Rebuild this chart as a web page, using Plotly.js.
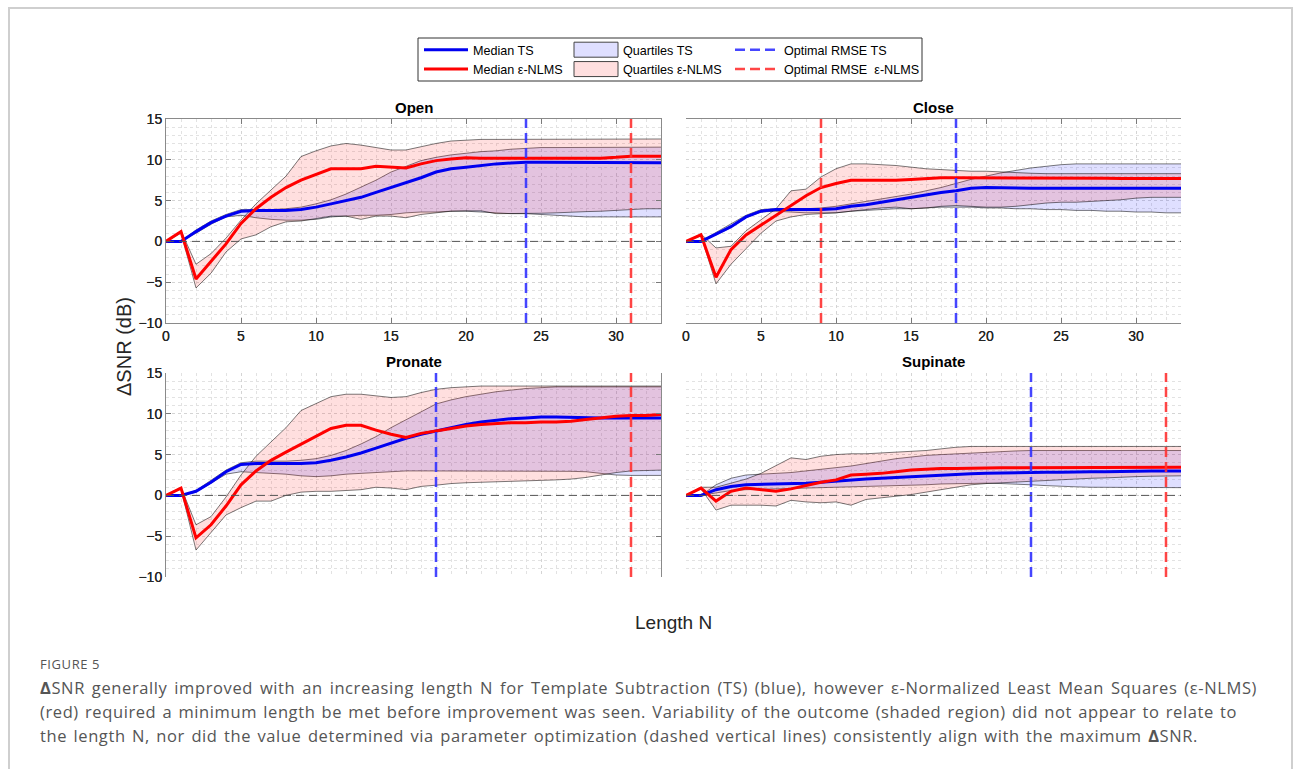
<!DOCTYPE html>
<html>
<head>
<meta charset="utf-8">
<script src="https://cdn.plot.ly/plotly-3.0.1.min.js"></script>
<style>
  html, body { margin:0; padding:0; background:#fff; overflow:hidden; width:1293px; height:769px; }
  #frame { position:absolute; left:8px; top:7px; width:1281px; height:800px; border:2px solid #cfcfcf; border-bottom:none; }
  #chart { position:absolute; left:0; top:0; width:1293px; height:769px; }
  #figlabel { position:absolute; left:40px; top:655px; font-family:"Open Sans", "Noto Sans", sans-serif; font-size:13px; color:#555; letter-spacing:0.6px; }
  .cap { position:absolute; left:40px; font-family:"Open Sans", "Noto Sans", sans-serif; font-size:16.5px; line-height:24px; color:#555; letter-spacing:0.6px; text-align:justify; text-align-last:justify; }
</style>
</head>
<body>
<div id="frame"></div>
<div id="chart"></div>
<div id="figlabel">FIGURE 5</div>
<div class="cap" style="top:676px;width:1217px;"><b>Δ</b>SNR generally improved with an increasing length N for Template Subtraction (TS) (blue), however ε-Normalized Least Mean Squares (ε-NLMS)</div>
<div class="cap" style="top:700px;width:1197px;">(red) required a minimum length be met before improvement was seen. Variability of the outcome (shaded region) did not appear to relate to</div>
<div class="cap" style="top:724px;width:1158px;">the length N, nor did the value determined via parameter optimization (dashed vertical lines) consistently align with the maximum <b>Δ</b>SNR.</div>
<script>
// ---------------- DATA ----------------
const N = [0,1,2,3,4,5,6,7,8,9,10,11,12,13,14,15,16,17,18,19,20,21,22,23,24,25,26,27,28,29,30,31,32,33];
const panelNames = ["Open", "Close", "Pronate", "Supinate"];
const yRange = [-10, 15];

// Open
const open_ts_med  = [0,0,1.2,2.3,3.1,3.7,3.8,3.8,3.8,3.9,4.2,4.6,5.0,5.4,6.0,6.6,7.2,7.8,8.5,8.9,9.1,9.3,9.5,9.6,9.7,9.7,9.7,9.7,9.7,9.7,9.7,9.7,9.65,9.65];
const open_ts_q3   = [0,0,1.4,2.5,3.3,3.9,3.9,3.9,4.0,4.2,4.6,5.1,5.8,6.6,7.5,8.5,9.2,9.9,10.3,10.6,10.8,11.0,11.1,11.3,11.4,11.5,11.5,11.5,11.5,11.5,11.55,11.55,11.55,11.55];
const open_ts_q1   = [0,0,1.0,2.1,3.0,3.2,2.9,2.7,2.6,2.6,2.7,3.0,3.1,3.2,3.2,3.3,3.5,3.6,3.6,3.7,3.7,3.6,3.5,3.4,3.4,3.3,3.2,3.1,3.0,3.0,3.0,3.0,3.0,3.0];
const open_nl_med  = [0,1.2,-4.6,-2.5,-0.3,2.2,4.0,5.4,6.6,7.5,8.2,8.9,8.9,8.9,9.2,9.1,9.0,9.5,9.9,10.1,10.25,10.2,10.2,10.2,10.2,10.2,10.2,10.2,10.2,10.2,10.3,10.45,10.45,10.45];
const open_nl_q3   = [0,1.3,-2.8,-1.5,0.4,2.6,4.6,6.3,8.0,10.4,11.1,11.7,12.0,11.8,11.5,11.2,11.2,11.6,12.0,12.3,12.4,12.5,12.5,12.5,12.5,12.5,12.5,12.5,12.5,12.5,12.55,12.55,12.55,12.55];
const open_nl_q1   = [0,1.0,-5.7,-3.9,-1.3,0.3,0.8,1.8,2.4,2.5,2.8,3.1,3.1,2.7,3.1,3.1,2.9,3.3,3.5,3.7,3.75,3.75,3.4,3.4,3.4,3.45,3.5,3.6,3.65,3.7,3.8,3.9,4.0,4.0];

// Close
const close_ts_med = [0,0,0.9,1.8,3.0,3.7,3.9,3.9,3.9,3.9,4.0,4.3,4.5,4.8,5.1,5.4,5.7,6.0,6.2,6.5,6.6,6.55,6.5,6.5,6.5,6.5,6.5,6.5,6.5,6.5,6.5,6.5,6.5,6.5];
const close_ts_q3  = [0,0,1.1,2.1,3.2,3.9,4.0,4.0,4.0,4.1,4.3,4.6,4.9,5.2,5.5,5.8,6.2,6.6,7.1,7.6,8.0,8.4,8.7,9.0,9.2,9.4,9.5,9.5,9.5,9.5,9.5,9.5,9.5,9.5];
const close_ts_q1  = [0,0,0.8,1.7,2.9,3.6,3.7,3.6,3.5,3.5,3.5,3.7,3.8,3.9,4.0,4.0,4.1,4.2,4.2,4.2,4.1,4.1,4.0,4.0,3.9,3.9,3.8,3.8,3.7,3.7,3.6,3.6,3.5,3.5];
const close_nl_med = [0,0.8,-4.4,-1.0,0.8,2.0,3.2,4.5,5.6,6.6,7.1,7.5,7.5,7.5,7.5,7.6,7.7,7.8,7.8,7.8,7.8,7.8,7.75,7.75,7.75,7.75,7.75,7.75,7.75,7.7,7.7,7.7,7.7,7.7];
const close_nl_q3  = [0,0.9,-0.8,-0.6,1.3,2.6,4.0,6.2,6.4,7.9,8.9,9.5,9.5,9.4,9.3,9.1,8.9,8.8,8.7,8.6,8.6,8.5,8.4,8.35,8.3,8.3,8.3,8.3,8.3,8.3,8.3,8.3,8.3,8.3];
const close_nl_q1  = [0,0.7,-5.2,-2.8,-0.9,1.0,2.5,3.0,3.3,3.4,3.5,3.7,3.9,4.1,4.2,4.0,4.1,4.3,4.4,4.3,4.2,4.2,4.3,4.5,4.7,4.8,4.8,4.9,5.0,5.1,5.3,5.4,5.4,5.4];

// Pronate
const pron_ts_med  = [0,0,0.5,1.6,2.9,3.8,3.9,3.9,3.9,3.9,4.0,4.3,4.7,5.2,5.8,6.4,7.0,7.5,7.9,8.3,8.7,9.0,9.2,9.4,9.5,9.6,9.6,9.55,9.5,9.5,9.5,9.5,9.5,9.5];
const pron_ts_q3   = [0,0,0.6,1.8,3.1,4.0,4.2,4.2,4.2,4.3,4.5,4.9,5.5,6.3,7.2,8.3,9.3,10.3,11.2,11.7,12.1,12.4,12.7,12.9,13.1,13.2,13.3,13.3,13.3,13.3,13.3,13.3,13.3,13.3];
const pron_ts_q1   = [0,0,0.4,1.5,2.6,2.9,2.8,2.7,2.6,2.4,2.3,2.4,2.6,2.7,2.8,2.9,3.0,3.0,3.0,3.0,3.0,3.0,3.0,3.0,3.0,3.0,3.0,2.95,2.9,2.7,2.5,2.45,2.45,2.45];
const pron_nl_med  = [0,0.9,-5.2,-3.6,-1.3,1.3,3.0,4.3,5.3,6.3,7.3,8.2,8.6,8.6,8.0,7.5,7.1,7.6,7.9,8.2,8.5,8.7,8.8,8.9,8.9,9.0,9.0,9.1,9.3,9.5,9.7,9.8,9.8,9.9];
const pron_nl_q3   = [0,1.0,-3.6,-2.6,-0.2,2.5,4.8,6.6,8.3,10.4,11.3,12.1,12.4,12.4,12.2,12.0,12.1,12.6,13.0,13.2,13.3,13.4,13.4,13.4,13.4,13.4,13.4,13.4,13.4,13.4,13.4,13.4,13.4,13.4];
const pron_nl_q1   = [0,0.8,-6.7,-4.5,-2.4,-1.5,-0.7,-0.7,0,0.4,0.5,0.5,0.6,0.7,1.0,0.9,0.7,1.1,1.25,1.45,1.55,1.6,1.7,1.72,1.75,1.8,1.9,2.0,2.2,2.5,2.8,3.0,3.05,3.1];

// Supinate
const sup_ts_med   = [0,0,0.7,1.1,1.3,1.35,1.35,1.4,1.5,1.6,1.75,1.9,2.0,2.1,2.2,2.3,2.4,2.5,2.6,2.65,2.7,2.75,2.8,2.8,2.85,2.85,2.9,2.9,2.9,2.95,2.95,3.0,3.0,3.0];
const sup_ts_q3    = [0,0,1.3,2.1,2.5,2.6,2.7,2.8,3.0,3.2,3.4,3.6,3.9,4.2,4.5,4.7,4.9,5.0,5.1,5.2,5.3,5.4,5.45,5.5,5.5,5.5,5.5,5.5,5.5,5.5,5.5,5.5,5.5,5.5];
const sup_ts_q1    = [0,0,0.3,0.6,0.7,0.75,0.8,0.8,0.85,0.9,0.95,1.0,1.05,1.1,1.15,1.2,1.3,1.4,1.45,1.5,1.5,1.45,1.4,1.3,1.2,1.1,1.05,1.0,1.0,0.95,0.95,0.95,0.95,0.95];
const sup_nl_med   = [0,0.9,-0.7,0.5,0.9,0.7,0.5,0.8,1.2,1.6,1.9,2.5,2.6,2.7,2.9,3.1,3.2,3.3,3.3,3.35,3.4,3.4,3.4,3.4,3.45,3.45,3.45,3.45,3.45,3.45,3.45,3.45,3.45,3.45];
const sup_nl_q3    = [0,1.0,1.0,1.5,2.0,2.7,3.7,4.6,4.4,4.8,5.0,5.1,5.1,5.2,5.25,5.35,5.5,5.7,5.9,6.0,6.0,6.0,6.0,6.0,6.0,6.0,6.0,6.0,6.0,6.0,6.0,6.0,6.0,6.0];
const sup_nl_q1    = [0,0.8,-1.8,-1.2,-1.2,-1.2,-1.3,-0.6,-0.8,-0.9,-0.8,-1.2,-0.5,-0.3,-0.1,0.1,0.4,0.7,1.0,1.3,1.45,1.55,1.65,1.75,1.85,1.95,2.0,2.1,2.15,2.25,2.3,2.35,2.4,2.4];

// Optimal RMSE lengths
const opt_ts   = [24, 18, 18, 23];
const opt_nlms = [31, 9, 31, 32];

// Legend labels
const labels = {
  medTS: "Median TS", medNL: "Median ε-NLMS",
  qTS: "Quartiles TS", qNL: "Quartiles ε-NLMS",
  optTS: "Optimal RMSE TS", optNL: "Optimal RMSE  ε-NLMS"
};

// ---------------- BUILD ----------------
const panels = [
  {ts:[open_ts_q1, open_ts_med, open_ts_q3], nl:[open_nl_q1, open_nl_med, open_nl_q3]},
  {ts:[close_ts_q1, close_ts_med, close_ts_q3], nl:[close_nl_q1, close_nl_med, close_nl_q3]},
  {ts:[pron_ts_q1, pron_ts_med, pron_ts_q3], nl:[pron_nl_q1, pron_nl_med, pron_nl_q3]},
  {ts:[sup_ts_q1, sup_ts_med, sup_ts_q3], nl:[sup_nl_q1, sup_nl_med, sup_nl_q3]}
];

const BLUE = "#0000f0", RED = "#ff0000";
const BLUE_D = "rgba(50,50,255,0.9)", RED_D = "rgba(255,50,50,0.9)";
const BLUE_F = "rgba(40,40,255,0.15)", RED_F = "rgba(255,30,30,0.14)";
const EDGE = "rgba(0,0,0,0.75)";

const traces = [];
panels.forEach((p, i) => {
  const xa = i === 0 ? "x" : "x" + (i + 1);
  const ya = i === 0 ? "y" : "y" + (i + 1);
  const leg = i === 0;
  traces.push({x:N, y:p.ts[0], xaxis:xa, yaxis:ya, mode:"lines", line:{color:EDGE, width:0.7}, showlegend:false, hoverinfo:"skip"});
  traces.push({x:N, y:p.ts[2], xaxis:xa, yaxis:ya, mode:"lines", line:{color:EDGE, width:0.7}, fill:"tonexty", fillcolor:BLUE_F,
    name:labels.qTS, showlegend:leg, legend:"legend2", hoverinfo:"skip"});
  traces.push({x:N, y:p.nl[0], xaxis:xa, yaxis:ya, mode:"lines", line:{color:EDGE, width:0.7}, showlegend:false, hoverinfo:"skip"});
  traces.push({x:N, y:p.nl[2], xaxis:xa, yaxis:ya, mode:"lines", line:{color:EDGE, width:0.7}, fill:"tonexty", fillcolor:RED_F,
    name:labels.qNL, showlegend:leg, legend:"legend2", hoverinfo:"skip"});
  traces.push({x:N, y:p.ts[1], xaxis:xa, yaxis:ya, mode:"lines", line:{color:BLUE, width:3}, name:labels.medTS, showlegend:leg, legend:"legend"});
  traces.push({x:N, y:p.nl[1], xaxis:xa, yaxis:ya, mode:"lines", line:{color:RED, width:3}, name:labels.medNL, showlegend:leg, legend:"legend"});
  traces.push({x:[opt_ts[i], opt_ts[i]], y:yRange, xaxis:xa, yaxis:ya, mode:"lines", line:{color:BLUE_D, width:2.5, dash:"10px,5px"},
    name:labels.optTS, showlegend:leg, legend:"legend3"});
  traces.push({x:[opt_nlms[i], opt_nlms[i]], y:yRange, xaxis:xa, yaxis:ya, mode:"lines", line:{color:RED_D, width:2.5, dash:"10px,5px"},
    name:labels.optNL, showlegend:leg, legend:"legend3"});
});

const W = 1293, H = 769;
const px = v => v / W;
const py = v => 1 - v / H;

const FONT = "Liberation Sans, Arial, Helvetica, sans-serif";
const tickFont = {family:FONT, size:14, color:"#262626"};

function xaxisDef(l, r) {
  return {
    domain:[px(l), px(r)], range:[0, 33], tickvals:[0,5,10,15,20,25,30], ticks:"inside", ticklen:5, tickcolor:"#7a7a7a",
    showline:true, linecolor:"#8a8a8a", linewidth:1, mirror:"ticks", zeroline:false,
    showgrid:true, gridcolor:"#d4d4d4", griddash:"dot", gridwidth:1,
    minor:{dtick:1, showgrid:true, gridcolor:"#e2e2e2", griddash:"dot", ticks:""},
    tickfont:tickFont, fixedrange:true
  };
}
function yaxisDef(b, t) {
  return {
    domain:[py(b), py(t)], range:yRange, tickvals:[-10,-5,0,5,10,15], ticks:"inside", ticklen:5, tickcolor:"#7a7a7a",
    showline:true, linecolor:"#8a8a8a", linewidth:1, mirror:"ticks", zeroline:false,
    showgrid:true, gridcolor:"#d4d4d4", griddash:"dot", gridwidth:1,
    minor:{dtick:1, showgrid:true, gridcolor:"#e2e2e2", griddash:"dot", ticks:""},
    tickfont:tickFont, fixedrange:true
  };
}

const L1 = 166, R1 = 661, L2 = 686, R2 = 1181;
const T1 = 119, B1 = 323, T2 = 373, B2 = 577;

const annotations = [];
const titlePos = [[L1,R1,T1],[L2,R2,T1],[L1,R1,T2],[L2,R2,T2]];
panelNames.forEach((name, i) => {
  const [l, r, t] = titlePos[i];
  annotations.push({text:"<b>" + name + "</b>", xref:"paper", yref:"paper", x:px((l + r) / 2), y:py(t - 1),
    xanchor:"center", yanchor:"bottom", showarrow:false, font:{family:FONT, size:15, color:"#000"}});
});
annotations.push({text:"ΔSNR (dB)", xref:"paper", yref:"paper", x:px(124), y:py(347), textangle:-90,
  xanchor:"center", yanchor:"middle", showarrow:false, font:{family:FONT, size:20, color:"#262626"}});
annotations.push({text:"Length N", xref:"paper", yref:"paper", x:px(673), y:py(622),
  xanchor:"center", yanchor:"middle", showarrow:false, font:{family:FONT, size:19, color:"#262626"}});

const shapes = [];
["y","y2","y3","y4"].forEach((ya, i) => {
  const xa = i === 0 ? "x" : "x" + (i + 1);
  shapes.push({type:"line", xref:xa + " domain", yref:ya, x0:0, x1:1, y0:0, y1:0,
    line:{color:"#555", width:1, dash:"8px,5px"}, layer:"above"});
});
shapes.push({type:"rect", xref:"paper", yref:"paper", x0:px(418), x1:px(922), y0:py(81), y1:py(38),
  line:{color:"#333", width:1}, fillcolor:"rgba(0,0,0,0)"});

const legFont = {family:FONT, size:12.6, color:"#000"};
const legBase = {xanchor:"left", yanchor:"top", bgcolor:"rgba(0,0,0,0)", borderwidth:0, font:legFont,
  itemwidth:44, tracegroupgap:0, orientation:"v", traceorder:"normal", itemclick:false, itemdoubleclick:false};

const layout = {
  width:W, height:H, margin:{l:0, r:0, t:0, b:0},
  paper_bgcolor:"rgba(0,0,0,0)", plot_bgcolor:"#fff",
  showlegend:true,
  xaxis:xaxisDef(L1, R1), yaxis:yaxisDef(B1, T1),
  xaxis2:xaxisDef(L2, R2), yaxis2:yaxisDef(B1, T1),
  xaxis3:xaxisDef(L1, R1), yaxis3:yaxisDef(B2, T2),
  xaxis4:xaxisDef(L2, R2), yaxis4:yaxisDef(B2, T2),
  legend:Object.assign({}, legBase, {x:px(419), y:py(35)}),
  legend2:Object.assign({}, legBase, {x:px(569), y:py(35)}),
  legend3:Object.assign({}, legBase, {x:px(730), y:py(35)}),
  annotations:annotations, shapes:shapes,
  hovermode:false
};

Plotly.newPlot("chart", traces, layout, {staticPlot:true, displayModeBar:false}).then(gd => {
  gd.querySelectorAll(".legendfill path").forEach(p => {
    p.setAttribute("d", "M5,-7.5h44v15h-44z");
    p.style.stroke = "#444";
    p.style.strokeWidth = "1px";
    const item = p.closest(".traces");
    if (item) item.querySelectorAll(".legendlines path").forEach(l => l.style.display = "none");
  });
});
</script>
</body>
</html>
